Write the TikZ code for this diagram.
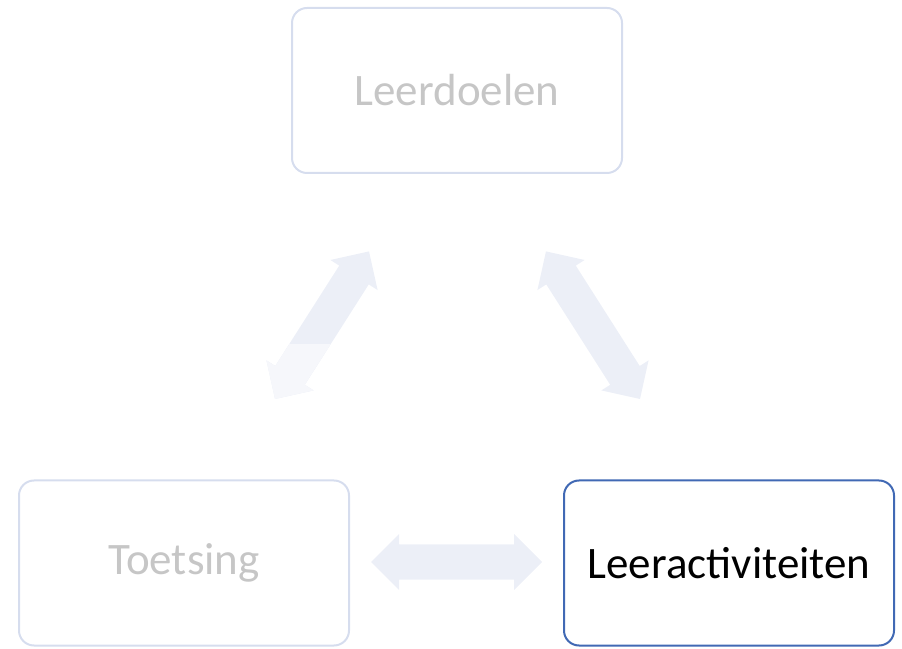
\documentclass[tikz,border=0pt]{standalone}
\usepackage{fontspec}
\setmainfont{Carlito}
\usepackage{tikz}

\definecolor{fadeline}{HTML}{D6DDEE}
\definecolor{fadetext}{HTML}{C6C6C6}
\definecolor{activeline}{HTML}{4169B4}
\definecolor{arrowfill}{HTML}{ECEFF7}
\definecolor{arrowpale}{HTML}{F6F7FB}

\tikzset{
  stagebox/.style = {draw, rounded corners=15pt, line width=2pt, minimum width=330pt, minimum height=165pt, font=\fontsize{45}{52}\selectfont},
  faded/.style = {stagebox, draw=fadeline, text=fadetext},
  active/.style = {stagebox, draw=activeline, text=black}
}

% double block arrow of length #1, drawn from (0,0) along the x axis
\newcommand{\blockarrow}[2]{\fill[#2] (0,0) -- (28,28) -- (28,17.5) -- (#1-28,17.5) -- (#1-28,28) -- (#1,0) -- (#1-28,-28) -- (#1-28,-17.5) -- (28,-17.5) -- (28,-28) -- cycle;}

\begin{document}
\begin{tikzpicture}[x=1pt, y=1pt]
\useasboundingbox (0,0) rectangle (902,648);
\node [faded] (doelen) at (457,557.5) {Leerdoelen};
\node [faded] (toets) at (184,85) {Toetsing};
\node [active] (activ) at (729,85) {Leeractiviteiten};
% arrows between the stages
\begin{scope}[shift={(371,86)}]
\blockarrow{171}{arrowfill}
\end{scope}
\begin{scope}[shift={(275,249)}, rotate=57.5]
\blockarrow{175}{arrowfill}
\end{scope}
\begin{scope}
\clip (0,0) rectangle (902,303);
\begin{scope}[shift={(275,249)}, rotate=57.5]
\blockarrow{175}{arrowpale}
\end{scope}
\end{scope}
\begin{scope}[shift={(640,249)}, rotate=122.5]
\blockarrow{175}{arrowfill}
\end{scope}
\end{tikzpicture}
\end{document}
